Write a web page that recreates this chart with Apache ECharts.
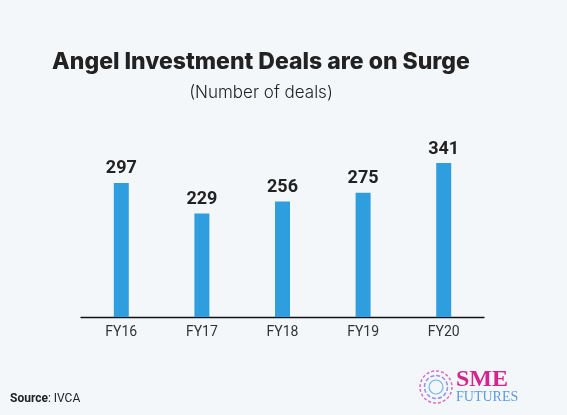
<!DOCTYPE html>
<html><head><meta charset="utf-8">
<script src="https://cdn.jsdelivr.net/npm/echarts@6/dist/echarts.min.js"></script>
<style>html,body{margin:0;padding:0;background:#f4f7fa}#c{width:567px;height:415px}</style>
</head><body><div id="c"></div>
<script>
const categories = ["FY16","FY17","FY18","FY19","FY20"];
const deals = [297,229,256,275,341];
const chart = echarts.init(document.getElementById('c'));
chart.setOption({
  backgroundColor:'#f4f7fa',
  animation:false,
  grid:{left:81,right:83,top:136.4,bottom:98},
  xAxis:{type:'category',data:categories,
    axisLine:{lineStyle:{color:'#111',width:1.3}},
    axisTick:{alignWithLabel:true,length:6,lineStyle:{color:'#111'}},
    axisLabel:{fontFamily:'Roboto',fontSize:14,color:'#333',margin:8}},
  yAxis:{type:'value',min:0,max:400,show:false},
  series:[{type:'bar',data:deals,barWidth:15,itemStyle:{color:'#2f9ede'},
    label:{show:true,position:'top',distance:5,fontFamily:'Roboto',fontWeight:'bold',fontSize:18,color:'#222'}}],
  graphic:[
    {type:'text',x:261,y:62,style:{text:'Angel Investment Deals are on Surge',align:'center',verticalAlign:'middle',font:'800 23px Inter',fill:'#222'}},
    {type:'text',x:261,y:93,style:{text:'(Number of deals)',align:'center',verticalAlign:'middle',font:'300 17px Inter',fill:'#222'}},
    {type:'text',left:10,top:393,style:{rich:{b:{fontFamily:'Roboto',fontWeight:'bold',fontSize:12,fill:'#222'},n:{fontFamily:'Roboto',fontSize:12,fill:'#222'}},text:'{b|Source}{n|: IVCA}'}},
    {type:'circle',shape:{cx:436,cy:387,r:16},style:{fill:'none',stroke:'#d86fc2',lineWidth:1.5,lineDash:[3,2]}},
    {type:'circle',shape:{cx:436,cy:387,r:11.5},style:{fill:'none',stroke:'#9d8ee0',lineWidth:1.5,lineDash:[4,2]}},
    {type:'circle',shape:{cx:436,cy:387,r:7},style:{fill:'none',stroke:'#6fb6ea',lineWidth:1.2}},
    {type:'text',left:456,top:368,style:{text:'SME',font:'bold 24px "Liberation Serif"',fill:'#d4258f'}},
    {type:'text',left:456,top:390,style:{text:'FUTURES',font:'14px "Liberation Serif"',fill:'#5b9be0'}}
  ]
});
</script></body></html>
